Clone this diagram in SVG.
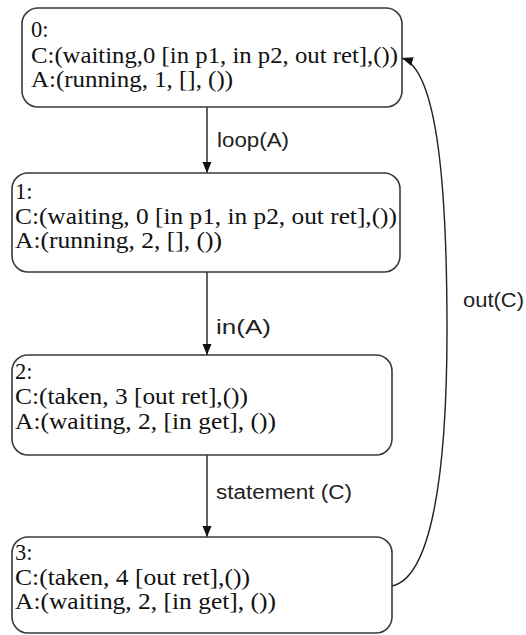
<svg xmlns="http://www.w3.org/2000/svg" width="526" height="635" viewBox="0 0 526 635">
<defs>
<style>
.box{fill:#fff;stroke:#3a3a3a;stroke-width:1.6}
.nt{font-family:"Liberation Serif","Times New Roman",serif;font-size:22.5px;fill:#111}
.el{font-family:"Liberation Sans",Arial,sans-serif;font-size:20px;fill:#222}
.edge{fill:none;stroke:#222;stroke-width:1.4}
</style>
<marker id="ah" markerUnits="userSpaceOnUse" markerWidth="12" markerHeight="10" refX="11" refY="4.5" orient="auto">
<path d="M0,0 L11,4.5 L0,9 z" fill="#111"/>
</marker>
</defs>
<rect width="526" height="635" fill="#fff"/>
<g id="connectors">
<line class="edge" x1="207" y1="107" x2="207" y2="173" marker-end="url(#ah)"/>
<line class="edge" x1="207" y1="272" x2="207" y2="355" marker-end="url(#ah)"/>
<line class="edge" x1="207" y1="455" x2="207" y2="537" marker-end="url(#ah)"/>
<path class="edge" d="M392,586 C430,578 447,480 447,330 C447,190 438,70 402,58" marker-end="url(#ah)"/>
<text class="el" x="217" y="147" textLength="72" lengthAdjust="spacingAndGlyphs">loop(A)</text>
<text class="el" x="216" y="334" textLength="55" lengthAdjust="spacingAndGlyphs">in(A)</text>
<text class="el" x="216" y="499" textLength="136" lengthAdjust="spacingAndGlyphs">statement (C)</text>
<text class="el" x="463" y="307" textLength="61" lengthAdjust="spacingAndGlyphs">out(C)</text>
</g>
<g id="node0">
<rect class="box" x="22" y="8" width="380" height="99" rx="16"/>
<text class="nt" x="31" y="37">0:</text>
<text class="nt" x="31" y="63" textLength="367" lengthAdjust="spacingAndGlyphs">C:(waiting,0 [in p1, in p2, out ret],())</text>
<text class="nt" x="31" y="87" textLength="202" lengthAdjust="spacingAndGlyphs">A:(running, 1, [], ())</text>
</g>
<g id="node1">
<rect class="box" x="12" y="173" width="388" height="99" rx="16"/>
<text class="nt" x="15" y="199">1:</text>
<text class="nt" x="15" y="224" textLength="382" lengthAdjust="spacingAndGlyphs">C:(waiting, 0 [in p1, in p2, out ret],())</text>
<text class="nt" x="15" y="248" textLength="207" lengthAdjust="spacingAndGlyphs">A:(running, 2, [], ())</text>
</g>
<g id="node2">
<rect class="box" x="12" y="355" width="380" height="100" rx="16"/>
<text class="nt" x="15" y="379">2:</text>
<text class="nt" x="15" y="404" textLength="233" lengthAdjust="spacingAndGlyphs">C:(taken, 3 [out ret],())</text>
<text class="nt" x="15" y="429" textLength="261" lengthAdjust="spacingAndGlyphs">A:(waiting, 2, [in get], ())</text>
</g>
<g id="node3">
<rect class="box" x="12" y="537" width="380" height="96" rx="16"/>
<text class="nt" x="15" y="560">3:</text>
<text class="nt" x="15" y="585" textLength="235" lengthAdjust="spacingAndGlyphs">C:(taken, 4 [out ret],())</text>
<text class="nt" x="15" y="609" textLength="261" lengthAdjust="spacingAndGlyphs">A:(waiting, 2, [in get], ())</text>
</g>
</svg>
